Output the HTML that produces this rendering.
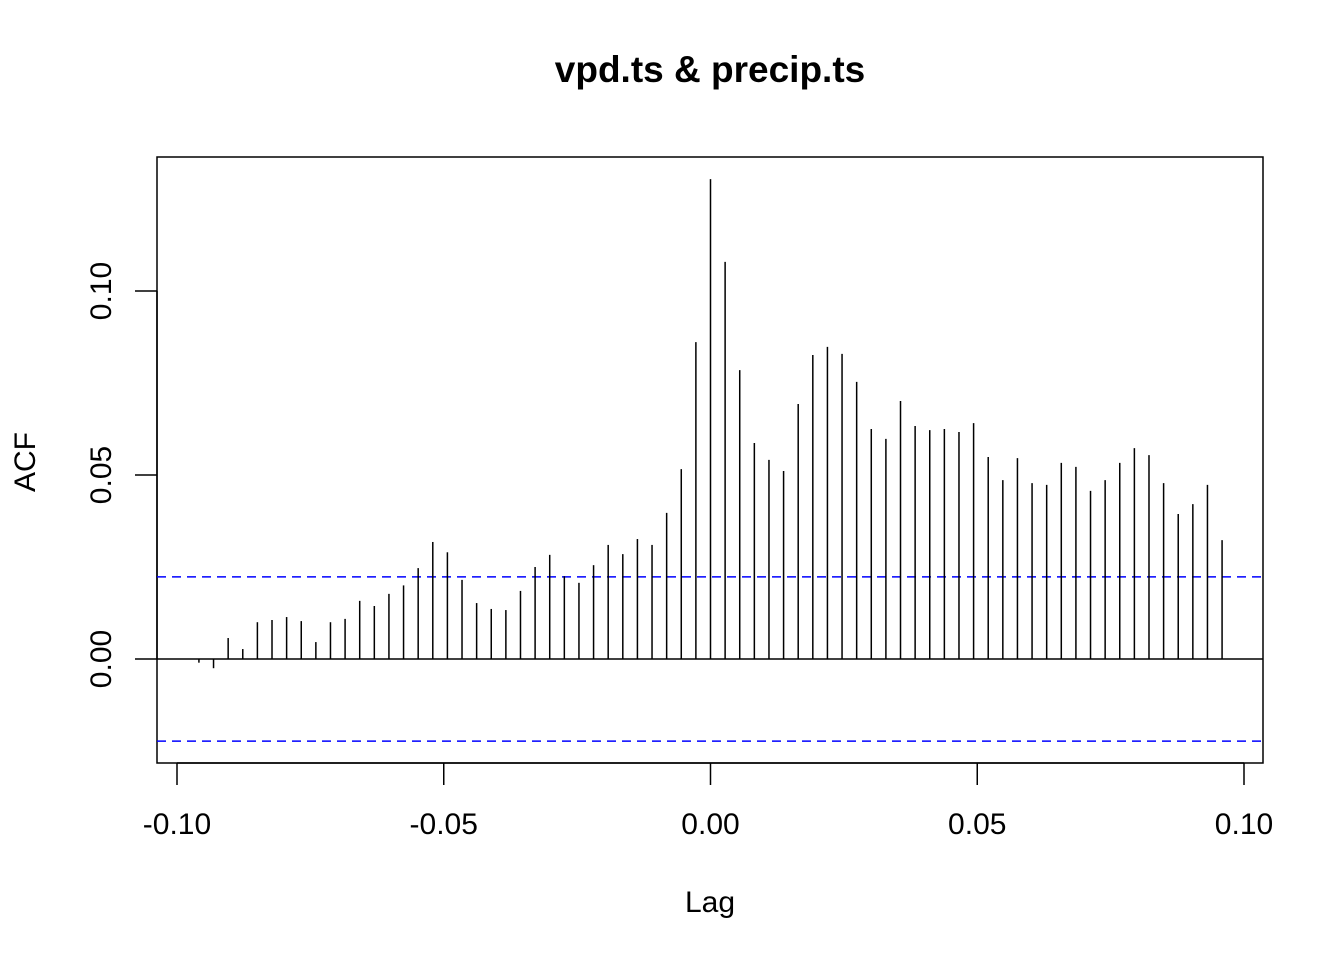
<!DOCTYPE html>
<html>
<head>
<meta charset="utf-8">
<style>
html,body{margin:0;padding:0;background:#fff;}
svg{display:block;font-family:"Liberation Sans",Arial,sans-serif;}
</style>
</head>
<body>
<svg id="chart" width="1344" height="960" viewBox="0 0 1344 960">
  <rect width="1344" height="960" fill="#fff"/>
  <text x="710" y="82" text-anchor="middle" font-size="37" font-weight="bold">vpd.ts &amp; precip.ts</text>
  <rect x="157" y="157" width="1106" height="606" fill="none" stroke="#000" stroke-width="1.5"/>
  <g id="xaxis"></g>
  <g id="yaxis"></g>
  <g id="marks"></g>
  <text x="710" y="912" text-anchor="middle" font-size="30">Lag</text>
  <text transform="translate(35,462) rotate(-90)" text-anchor="middle" font-size="30">ACF</text>
</svg>
<script>
const lags = [];
for (let k = -35; k <= 35; k++) lags.push(k / 365);
const acfValues = [-0.001,-0.0025,0.0057,0.0027,0.010,0.0106,0.0114,0.0103,0.0046,0.010,0.0109,0.0158,0.0144,0.0177,0.020,0.0247,0.0318,0.029,0.0215,0.0152,0.0136,0.0133,0.0185,0.025,0.0283,0.0225,0.0207,0.0255,0.031,0.0285,0.0326,0.031,0.0397,0.0516,0.0861,0.1304,0.1079,0.0785,0.0587,0.0541,0.0511,0.0693,0.0826,0.0848,0.0829,0.0753,0.0625,0.0598,0.0701,0.0633,0.0622,0.0625,0.0617,0.0641,0.0549,0.0486,0.0546,0.0478,0.0473,0.0533,0.0522,0.0457,0.0486,0.0533,0.0573,0.0554,0.0478,0.0394,0.0421,0.0473,0.0323];
const xTicks = [-0.10,-0.05,0.00,0.05,0.10];
const xTickLabels = ["-0.10","-0.05","0.00","0.05","0.10"];
const yTicks = [0.00,0.05,0.10];
const yTickLabels = ["0.00","0.05","0.10"];
const ciBound = [0.0223];

const NS = "http://www.w3.org/2000/svg";
const xs = v => 710.5 + v * 5335;
const ys = v => 659 - v * 3680;
function mk(tag, attrs, parent) {
  const e = document.createElementNS(NS, tag);
  for (const k in attrs) e.setAttribute(k, attrs[k]);
  parent.appendChild(e);
  return e;
}
const gx = document.getElementById('xaxis');
const gy = document.getElementById('yaxis');
const gm = document.getElementById('marks');

const xl = mk('line', {x1: xs(xTicks[0]), x2: xs(xTicks[xTicks.length-1]), y1: 763, y2: 763, stroke: '#000', 'stroke-width': 1.5}, gx);


xTicks.forEach((t, i) => {
  const l = mk('line', {x1: xs(t), x2: xs(t), y1: 763, y2: 785, stroke: '#000', 'stroke-width': 1.5}, gx);
  
  
  const tx = mk('text', {x: xs(t), y: 834, 'text-anchor': 'middle', 'font-size': 30}, gx);
  tx.textContent = xTickLabels[i];
  
  
});
const yl = mk('line', {x1: 157, x2: 157, y1: ys(yTicks[0]), y2: ys(yTicks[yTicks.length-1]), stroke: '#000', 'stroke-width': 1.5}, gy);


yTicks.forEach((t, i) => {
  const l = mk('line', {x1: 135, x2: 157, y1: ys(t), y2: ys(t), stroke: '#000', 'stroke-width': 1.5}, gy);
  
  
  const tx = mk('text', {transform: `translate(111,${ys(t)}) rotate(-90)`, 'text-anchor': 'middle', 'font-size': 30}, gy);
  tx.textContent = yTickLabels[i];
  
  
});

const zl = mk('line', {x1: 157, x2: 1263, y1: ys(0), y2: ys(0), stroke: '#000', 'stroke-width': 1.5}, gm);


[ciBound[0], -ciBound[0]].forEach(b => {
  const l = mk('line', {x1: 157, x2: 1263, y1: ys(b), y2: ys(b), stroke: '#0000ff', 'stroke-width': 1.5, 'stroke-dasharray': '9 6'}, gm);
  
  
});
acfValues.forEach((v, i) => {
  const l = mk('line', {x1: xs(lags[i]), x2: xs(lags[i]), y1: ys(0), y2: ys(v), stroke: '#000', 'stroke-width': 1.5}, gm);
  
  
});
</script>
</body>
</html>
